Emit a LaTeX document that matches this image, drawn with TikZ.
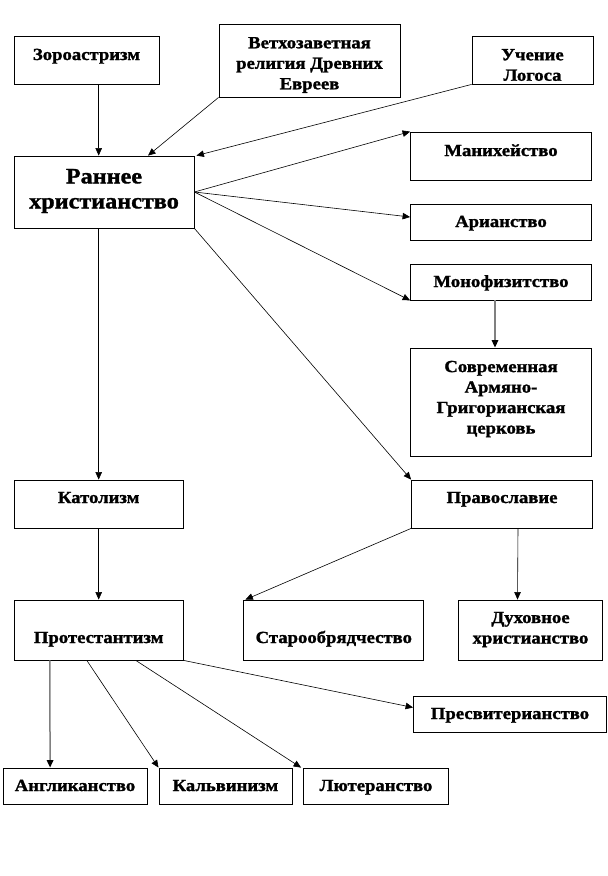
\documentclass[tikz,border=0pt]{standalone}
\usepackage{fontspec}
\setmainfont{Liberation Serif}[BoldFeatures={FakeStretch=1.1,FakeBold=1.4}]
\usetikzlibrary{arrows.meta,calc}
\tikzset{
  box/.style={draw=black,line width=0.8pt,rectangle,inner sep=0pt},
  txt/.style={font=\bfseries\fontsize{17}{20.5}\selectfont,align=center,inner sep=0pt,text=black},
  bigtxt/.style={font=\bfseries\fontsize{22}{25}\selectfont,align=center,inner sep=0pt,text=black},
  arr/.style={draw=black,line width=0.6pt,-{Triangle[length=7.5pt,width=6.5pt]}},
  garr/.style={draw=gray,line width=1.5pt,-{Triangle[length=7.5pt,width=6.5pt,color=black]}},
}
\begin{document}
\begin{tikzpicture}[x=1pt,y=-1pt]
\useasboundingbox (0,0) rectangle (608,876);
% boxes
\node[box,minimum width=145,minimum height=48] (zor) at (86.5,60) {};
\node[box,minimum width=181,minimum height=73] (vet) at (309.5,60.5) {};
\node[box,minimum width=121,minimum height=48] (log) at (532.5,60) {};
\node[box,minimum width=180,minimum height=72] (rann) at (104,192) {};
\node[box,minimum width=181,minimum height=48] (man) at (501,156) {};
\node[box,minimum width=181,minimum height=36] (ari) at (501,222) {};
\node[box,minimum width=181,minimum height=36] (mono) at (501,282) {};
\node[box,minimum width=181,minimum height=108] (sovr) at (501,402) {};
\node[box,minimum width=169,minimum height=48] (kat) at (98.7,504) {};
\node[box,minimum width=181,minimum height=48] (prav) at (502,504) {};
\node[box,minimum width=169,minimum height=60] (prot) at (98.7,630) {};
\node[box,minimum width=180,minimum height=60] (star) at (333.8,630) {};
\node[box,minimum width=144,minimum height=60] (duh) at (530.5,630) {};
\node[box,minimum width=193,minimum height=36] (pres) at (510,714.5) {};
\node[box,minimum width=144,minimum height=36] (angl) at (75,786) {};
\node[box,minimum width=133,minimum height=36] (kal) at (225.4,786) {};
\node[box,minimum width=145,minimum height=36] (lut) at (376,786) {};
% texts
\node[txt,anchor=base] (tzor) at (86.5,60) {Зороастризм};
\node[txt] (tvet) at (309.5,65) {Ветхозаветная\\религия Древних\\Евреев};
\node[txt] (tlog) at (532.5,65) {Учение\\Логоса};
\node[bigtxt] (trann) at (104,191) {Раннее\\христианство};
\node[txt,anchor=base] (tman) at (501,156) {Манихейство};
\node[txt,anchor=base] (tari) at (501,227) {Арианство};
\node[txt,anchor=base] (tmono) at (501,287) {Монофизитство};
\node[txt] (tsovr) at (501,399) {Современная\\Армяно-\\Григорианская\\церковь};
\node[txt,anchor=base] (tkat) at (98.7,503) {Католизм};
\node[txt,anchor=base] (tprav) at (502,503) {Православие};
\node[txt,anchor=base] (tprot) at (98.7,643) {Протестантизм};
\node[txt,anchor=base] (tstar) at (333.8,643) {Старообрядчество};
\node[txt] (tduh) at (530.5,629.5) {Духовное\\христианство};
\node[txt,anchor=base] (tpres) at (510,719) {Пресвитерианство};
\node[txt,anchor=base] (tangl) at (75,791) {Англиканство};
\node[txt,anchor=base] (tkal) at (225.4,791) {Кальвинизм};
\node[txt,anchor=base] (tlut) at (376,791) {Лютеранство};
% connectors
\draw[arr] (zor.south -| kat.north) -- (rann.north -| kat.north);
\draw[arr] (vet.south west) -- ($(rann.north)+(44,0)$);
\draw[arr] (log.south west) -- ($(rann.north east)+(2,0)$);
\draw[arr] (rann.east) -- (man.north west);
\draw[arr] (rann.east) -- ($(ari.west)+(0,-5)$);
\draw[arr] (rann.east) -- (mono.south west);
\draw[arr] (rann.south east) -- (prav.north west);
\draw[garr] ($(mono.south)+(-6,0)$) -- ($(sovr.north)+(-6,0)$);
\draw[arr] (rann.south -| kat.north) -- (kat.north);
\draw[arr] (kat.south) -- (prot.north);
\draw[arr] (prav.south west) -- ($(star.north west)+(2,0)$);
\draw[arr] ($(prav.south)+(16,0)$) -- ($(duh.north)+(-13,0)$);
\draw[garr] ($(prot.south west)+(36,0)$) -- ($(angl.north west)+(47.5,0)$);
\draw[arr] ($(prot.south west)+(73,0)$) -- (kal.north west);
\draw[arr] ($(prot.south west)+(122,0)$) -- ($(lut.north west)+(-2,0)$);
\draw[arr] (prot.south east) -- ($(pres.west)+(0,-7)$);
\end{tikzpicture}
\end{document}
